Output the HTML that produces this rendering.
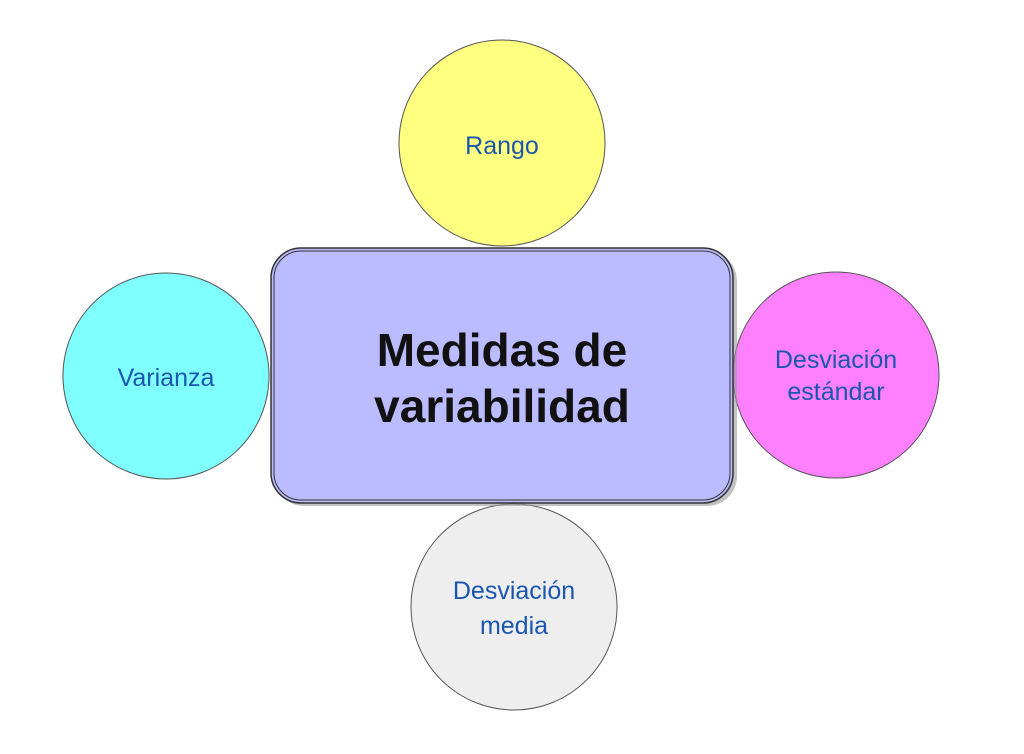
<!DOCTYPE html>
<html><head><style>body{margin:0;background:#fff}</style></head><body>
<svg width="1024" height="749" xmlns="http://www.w3.org/2000/svg" font-family="Liberation Sans, sans-serif">
<circle cx="502" cy="143" r="103" fill="#ffff80" stroke="#555" stroke-width="1"/>
<circle cx="166" cy="376" r="103" fill="#80ffff" stroke="#555" stroke-width="1"/>
<circle cx="836" cy="375" r="103" fill="#ff80ff" stroke="#555" stroke-width="1"/>
<circle cx="514" cy="607" r="103" fill="#eeeeee" stroke="#555" stroke-width="1"/>
<rect x="274" y="251" width="463" height="255" rx="30" fill="#999" opacity="0.6"/>
<rect x="271" y="248" width="462" height="255" rx="30" fill="#bbbbff" stroke="#333" stroke-width="1.5"/>
<rect x="274" y="251" width="456" height="249" rx="27" fill="none" stroke="#333" stroke-width="1"/>
<g fill="#1a56b0" font-size="25" text-anchor="middle">
<text x="502" y="154">Rango</text>
<text x="166" y="386">Varianza</text>
<text x="836" y="368">Desviación</text>
<text x="836" y="400">estándar</text>
<text x="514" y="599">Desviación</text>
<text x="514" y="634">media</text>
</g>
<g fill="#111" font-size="46" font-weight="bold" text-anchor="middle">
<text x="502" y="366">Medidas de</text>
<text x="502" y="422">variabilidad</text>
</g>
</svg>
</body></html>
